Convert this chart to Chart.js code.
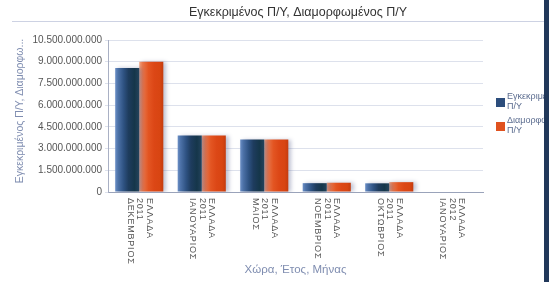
<!DOCTYPE html>
<html lang="el">
<head>
<meta charset="UTF-8">
<title>Εγκεκριμένος Π/Υ, Διαμορφωμένος Π/Υ</title>
<script src="https://cdn.jsdelivr.net/npm/chart.js@4"></script>
<style>
  html, body { margin: 0; padding: 0; background: #fff; }
  canvas { display: block; }
</style>
</head>
<body>
<canvas id="budgetChart" width="549" height="282"></canvas>
<script>
// data
const countries = ['ΕΛΛΑΔΑ', 'ΕΛΛΑΔΑ', 'ΕΛΛΑΔΑ', 'ΕΛΛΑΔΑ', 'ΕΛΛΑΔΑ', 'ΕΛΛΑΔΑ'];
const years = ['2011', '2011', '2011', '2011', '2011', '2012'];
const months = ['ΔΕΚΕΜΒΡΙΟΣ', 'ΙΑΝΟΥΑΡΙΟΣ', 'ΜΑΙΟΣ', 'ΝΟΕΜΒΡΙΟΣ', 'ΟΚΤΩΒΡΙΟΣ', 'ΙΑΝΟΥΑΡΙΟΣ'];
const approved = [8570000000, 3900000000, 3620000000, 610000000, 600000000, null];   // Εγκεκριμένος Π/Υ
const adjusted = [8990000000, 3900000000, 3620000000, 640000000, 680000000, null];   // Διαμορφωμένος Π/Υ
const yTicks = [0, 1500000000, 3000000000, 4500000000, 6000000000, 7500000000, 9000000000, 10500000000];

const labels = months.map((m, i) => [countries[i], years[i], m]);
const FONT = '"Liberation Sans", Arial, sans-serif';

function dotted(v) {
  return String(Math.round(v)).replace(/\B(?=(\d{3})+(?!\d))/g, '.');
}

// horizontal "cylinder" fill for each bar
function barFill(stops, flat) {
  return function(c) {
    const el = c.chart.getDatasetMeta(c.datasetIndex).data[c.dataIndex];
    if (!el || !isFinite(el.x) || !isFinite(el.width)) return flat;
    const g = c.chart.ctx.createLinearGradient(el.x - el.width / 2, 0, el.x + el.width / 2, 0);
    stops.forEach(s => g.addColorStop(s[0], s[1]));
    return g;
  };
}
const blueStops = [[0, '#6b8fc6'], [0.12, '#4d72a8'], [0.35, '#2e5282'], [0.55, '#1e3c5e'], [0.8, '#15364a'], [1, '#24435c']];
const orangeStops = [[0, '#f2a27e'], [0.14, '#e9764a'], [0.38, '#e35522'], [0.62, '#dc4716'], [0.85, '#d84512'], [1, '#c43c0f']];

const decor = {
  id: 'decor',
  beforeDraw(chart) {
    const ctx = chart.ctx;
    ctx.save();
    ctx.fillStyle = '#ffffff';
    ctx.fillRect(0, 0, chart.width, chart.height);
    ctx.restore();
  },
  beforeDatasetsDraw(chart) {
    const ctx = chart.ctx;
    ctx.save();
    ctx.shadowColor = 'rgba(70, 80, 130, 0.35)';
    ctx.shadowBlur = 4;
    ctx.shadowOffsetX = 3;
    ctx.shadowOffsetY = 0;
  },
  afterDatasetsDraw(chart) {
    chart.ctx.restore();
  },
  afterDraw(chart) {
    const ctx = chart.ctx;
    const xs = chart.scales.x;
    ctx.save();

    // title + separator
    ctx.fillStyle = '#333';
    ctx.font = '12.5px ' + FONT;
    ctx.textAlign = 'center';
    ctx.textBaseline = 'middle';
    ctx.fillText('Εγκεκριμένος Π/Υ, Διαμορφωμένος Π/Υ', 298, 13);
    ctx.strokeStyle = '#cdd2e3';
    ctx.lineWidth = 1;
    ctx.beginPath();
    ctx.moveTo(12, 21.5);
    ctx.lineTo(544, 21.5);
    ctx.stroke();

    // x category labels, turned clockwise
    ctx.fillStyle = '#555';
    ctx.font = '9px ' + FONT;
    ctx.letterSpacing = '0.8px';
    ctx.textAlign = 'left';
    const offs = [-10, -0.5, 9];
    labels.forEach((lines, i) => {
      const x = xs.getPixelForTick(i);
      ctx.save();
      ctx.translate(x, 198);
      ctx.rotate(Math.PI / 2);
      lines.forEach((t, j) => ctx.fillText(t, 0, offs[j]));
      ctx.restore();
    });
    ctx.letterSpacing = '0px';

    // axis titles
    ctx.fillStyle = '#7f8db0';
    ctx.font = '11.5px ' + FONT;
    ctx.textAlign = 'center';
    ctx.fillText('Χώρα, Έτος, Μήνας', (xs.left + xs.right) / 2, 270);
    ctx.save();
    ctx.translate(20, 111);
    ctx.rotate(-Math.PI / 2);
    ctx.font = '10.5px ' + FONT;
    ctx.fillText('Εγκεκριμένος Π/Υ, Διαμορφω...', 0, 0);
    ctx.restore();

    // legend
    const ds = chart.data.datasets;
    const legendY = [98, 122];
    ctx.font = '9px ' + FONT;
    ctx.textAlign = 'left';
    ds.forEach((d, i) => {
      ctx.fillStyle = d.legendColor;
      ctx.fillRect(496, legendY[i], 9, 9);
      ctx.fillStyle = '#5b6c8f';
      const parts = d.label.split(' ');
      ctx.fillText(parts[0], 507, legendY[i] - 1);
      ctx.fillText(parts[1], 507, legendY[i] + 9);
    });

    // dark frame strip on the right
    ctx.fillStyle = '#21385a';
    ctx.fillRect(544, 0, 5, chart.height);
    ctx.restore();
  }
};

const chart = new Chart(document.getElementById('budgetChart'), {
  type: 'bar',
  data: {
    labels: labels,
    datasets: [{
      label: 'Εγκεκριμένος Π/Υ',
      data: approved,
      legendColor: '#2c4d7c',
      backgroundColor: barFill(blueStops, '#2c4d7c'),
      borderWidth: 0
    }, {
      label: 'Διαμορφωμένος Π/Υ',
      data: adjusted,
      legendColor: '#e0521f',
      backgroundColor: barFill(orangeStops, '#e0521f'),
      borderWidth: 0
    }]
  },
  options: {
    responsive: false,
    animation: false,
    devicePixelRatio: 1,
    layout: { padding: { left: 0, right: 66, top: 40, bottom: 0 } },
    categoryPercentage: 0.77,
    barPercentage: 1.0,
    plugins: {
      legend: { display: false },
      title: { display: false },
      tooltip: { enabled: false }
    },
    scales: {
      x: {
        ticks: { display: false },
        grid: { display: false, drawTicks: false },
        border: { color: '#9aa3ba' },
        afterFit(scale) { scale.height = 90; }
      },
      y: {
        min: 0,
        max: yTicks[yTicks.length - 1],
        afterBuildTicks(scale) { scale.ticks = yTicks.map(v => ({ value: v })); },
        ticks: {
          callback: v => dotted(v),
          color: '#555',
          font: { family: FONT, size: 10 },
          padding: 3
        },
        grid: { color: '#dde1ec', tickLength: 3 },
        border: { color: '#a9b0c4' },
        afterFit(scale) { scale.width = 108; }
      }
    }
  },
  plugins: [decor]
});
chart.update();
</script>
</body>
</html>
